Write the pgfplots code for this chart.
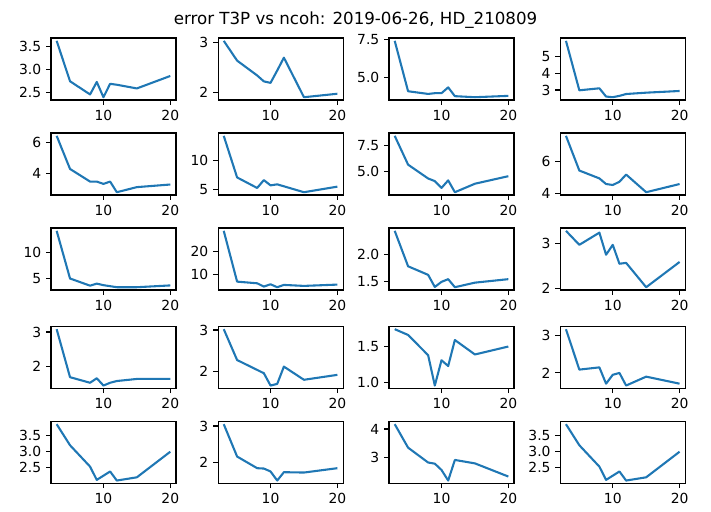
\documentclass[border=0pt]{standalone}
\usepackage{fontspec}
\setmainfont{DejaVu Sans}
\usepackage{pgfplots}
\pgfplotsset{compat=1.18}
\definecolor{mplblue}{HTML}{1F77B4}
\pgfplotsset{
  panel/.style={
    scale only axis, width=90pt, height=44.64pt,
    xmin=2.15, xmax=20.85,
    xtick={10,20},
    tick align=outside, major tick length=3.5pt,
    every tick/.style={black, line width=0.8pt},
    axis line style={line width=0.8pt},
    ticklabel style={font=\fontsize{10}{12}\selectfont},
    /pgf/number format/assume math mode=true,
    xtick pos=left, ytick pos=left,
    anchor=south west,
  },
  dec/.style={yticklabel style={/pgf/number format/.cd,fixed,fixed zerofill,precision=1}},
  intg/.style={yticklabel style={/pgf/number format/.cd,fixed,precision=0}},
  ln/.style={mplblue, line width=1.5pt, no marks, line join=round},
}
\begin{document}
\begin{tikzpicture}
\path[use as bounding box] (0,0) rectangle (511.92pt,367.92pt);
\node[anchor=base, font=\fontsize{12}{14}\selectfont] at (256pt,350.6pt) {error T3P vs ncoh: 2019-06-26, HD\_210809};
% Row 1
\begin{axis}[panel, dec, at={(36.7pt,295.9pt)}, ymin=2.339, ymax=3.681, ytick={2.5,3.0,3.5}]
\addplot[ln] coordinates {(3,3.62)(5,2.745)(8,2.46)(9,2.73)(10,2.40)(11,2.69)(12,2.67)(15,2.59)(20,2.86)};
\end{axis}
\begin{axis}[panel, intg, at={(157.0pt,295.9pt)}, ymin=1.843, ymax=3.097, ytick={2,3}]
\addplot[ln] coordinates {(3,3.04)(5,2.64)(8,2.34)(9,2.22)(10,2.19)(11,2.44)(12,2.70)(15,1.90)(20,1.97)};
\end{axis}
\begin{axis}[panel, dec, at={(280.1pt,295.9pt)}, ymin=3.461, ymax=7.619, ytick={5.0,7.5}]
\addplot[ln] coordinates {(3,7.43)(5,4.05)(8,3.87)(9,3.92)(10,3.92)(11,4.31)(12,3.72)(15,3.65)(20,3.74)};
\end{axis}
\begin{axis}[panel, intg, at={(403.4pt,295.9pt)}, ymin=2.4025, ymax=6.0875, ytick={3,4,5}]
\addplot[ln] coordinates {(3,5.92)(5,2.98)(8,3.10)(9,2.61)(10,2.57)(11,2.65)(12,2.76)(15,2.84)(20,2.94)};
\end{axis}
% Row 2
\begin{axis}[panel, intg, at={(36.7pt,227.5pt)}, ymin=2.587, ymax=6.613, ytick={4,6}]
\addplot[ln] coordinates {(3,6.43)(5,4.28)(8,3.46)(9,3.46)(10,3.31)(11,3.46)(12,2.77)(15,3.10)(20,3.27)};
\end{axis}
\begin{axis}[panel, intg, at={(157.0pt,227.5pt)}, ymin=4.083, ymax=14.577, ytick={5,10}]
\addplot[ln] coordinates {(3,14.1)(5,7.06)(8,5.28)(9,6.61)(10,5.72)(11,5.89)(12,5.56)(15,4.56)(20,5.5)};
\end{axis}
\begin{axis}[panel, dec, at={(280.1pt,227.5pt)}, ymin=2.731, ymax=8.649, ytick={5.0,7.5}]
\addplot[ln] coordinates {(3,8.38)(5,5.63)(8,4.31)(9,4.06)(10,3.41)(11,4.13)(12,3.0)(15,3.81)(20,4.53)};
\end{axis}
\begin{axis}[panel, intg, at={(403.4pt,227.5pt)}, ymin=3.8845, ymax=7.7455, ytick={4,6}]
\addplot[ln] coordinates {(3,7.57)(5,5.41)(8,4.92)(9,4.57)(10,4.51)(11,4.71)(12,5.16)(15,4.06)(20,4.57)};
\end{axis}
% Row 3
\begin{axis}[panel, intg, at={(36.7pt,159.1pt)}, ymin=2.75, ymax=14.85, ytick={5,10}]
\addplot[ln] coordinates {(3,14.3)(5,5.0)(8,3.6)(9,4.0)(10,3.7)(11,3.5)(12,3.3)(15,3.3)(20,3.65)};
\end{axis}
\begin{axis}[panel, intg, at={(157.0pt,159.1pt)}, ymin=3.2015, ymax=30.2285, ytick={10,20}]
\addplot[ln] coordinates {(3,29.0)(5,6.86)(8,6.14)(9,4.71)(10,5.71)(11,4.43)(12,5.43)(15,5.0)(20,5.57)};
\end{axis}
\begin{axis}[panel, dec, at={(280.1pt,159.1pt)}, ymin=1.3375, ymax=2.4925, ytick={1.5,2.0}]
\addplot[ln] coordinates {(3,2.44)(5,1.78)(8,1.62)(9,1.395)(10,1.49)(11,1.54)(12,1.39)(15,1.475)(20,1.54)};
\end{axis}
\begin{axis}[panel, intg, at={(403.4pt,159.1pt)}, ymin=1.9675, ymax=3.3425, ytick={2,3}]
\addplot[ln] coordinates {(3,3.28)(5,2.97)(8,3.24)(9,2.75)(10,2.97)(11,2.55)(12,2.57)(15,2.03)(20,2.59)};
\end{axis}
% Row 4
\begin{axis}[panel, intg, at={(36.7pt,88.3pt)}, ymin=1.379, ymax=3.161, ytick={2,3}]
\addplot[ln] coordinates {(3,3.08)(5,1.70)(8,1.54)(9,1.67)(10,1.46)(11,1.54)(12,1.59)(15,1.65)(20,1.65)};
\end{axis}
\begin{axis}[panel, intg, at={(157.0pt,88.3pt)}, ymin=1.5815, ymax=3.0885, ytick={2,3}]
\addplot[ln] coordinates {(3,3.02)(5,2.27)(8,2.03)(9,1.95)(10,1.65)(11,1.69)(12,2.11)(15,1.79)(20,1.91)};
\end{axis}
\begin{axis}[panel, dec, at={(280.1pt,88.3pt)}, ymin=0.921, ymax=1.779, ytick={1.0,1.5}]
\addplot[ln] coordinates {(3,1.74)(5,1.66)(8,1.38)(9,0.96)(10,1.31)(11,1.23)(12,1.59)(15,1.39)(20,1.50)};
\end{axis}
\begin{axis}[panel, intg, at={(403.4pt,88.3pt)}, ymin=1.584, ymax=3.256, ytick={2,3}]
\addplot[ln] coordinates {(3,3.18)(5,2.09)(8,2.15)(9,1.71)(10,1.95)(11,2.0)(12,1.66)(15,1.90)(20,1.71)};
\end{axis}
% Row 5
\begin{axis}[panel, dec, at={(36.7pt,19.9pt)}, ymin=2.013, ymax=3.927, ytick={2.5,3.0,3.5}]
\addplot[ln] coordinates {(3,3.84)(5,3.19)(8,2.53)(9,2.12)(10,2.25)(11,2.38)(12,2.10)(15,2.20)(20,2.99)};
\end{axis}
\begin{axis}[panel, intg, at={(157.0pt,19.9pt)}, ymin=1.4225, ymax=3.1275, ytick={2,3}]
\addplot[ln] coordinates {(3,3.05)(5,2.16)(8,1.84)(9,1.83)(10,1.75)(11,1.50)(12,1.73)(15,1.72)(20,1.84)};
\end{axis}
\begin{axis}[panel, intg, at={(280.1pt,19.9pt)}, ymin=2.1015, ymax=4.2685, ytick={3,4}]
\addplot[ln] coordinates {(3,4.17)(5,3.35)(8,2.83)(9,2.79)(10,2.57)(11,2.20)(12,2.92)(15,2.80)(20,2.34)};
\end{axis}
\begin{axis}[panel, dec, at={(403.4pt,19.9pt)}, ymin=2.013, ymax=3.927, ytick={2.5,3.0,3.5}]
\addplot[ln] coordinates {(3,3.84)(5,3.19)(8,2.53)(9,2.12)(10,2.25)(11,2.38)(12,2.10)(15,2.20)(20,2.99)};
\end{axis}
\end{tikzpicture}
\end{document}
